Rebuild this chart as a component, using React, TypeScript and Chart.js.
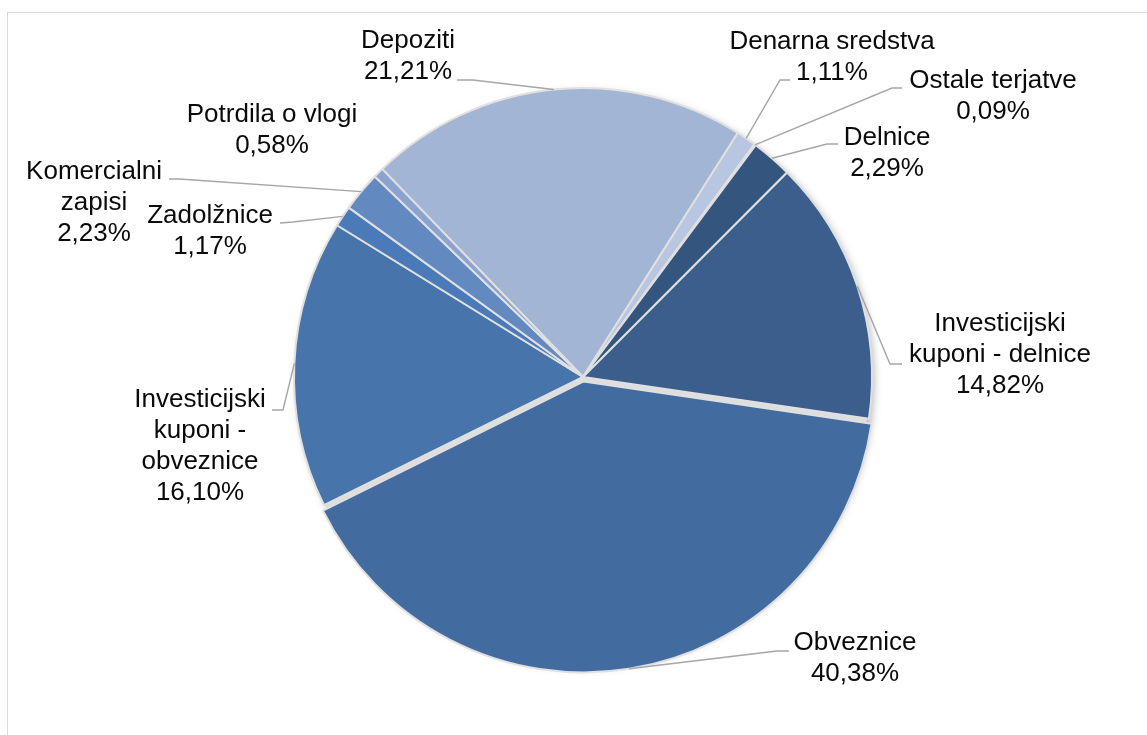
import React, { useEffect, useRef } from "react";
import { Chart, registerables } from "chart.js";

Chart.register(...registerables);

// ---- data ----
const categories = [
  "Depoziti",
  "Denarna sredstva",
  "Ostale terjatve",
  "Delnice",
  "Investicijski kuponi - delnice",
  "Obveznice",
  "Investicijski kuponi - obveznice",
  "Zadolžnice",
  "Komercialni zapisi",
  "Potrdila o vlogi",
];
const shares = [21.21, 1.11, 0.09, 2.29, 14.82, 40.38, 16.1, 1.17, 2.23, 0.58];
const labelLines = [
  ["Depoziti"],
  ["Denarna sredstva"],
  ["Ostale terjatve"],
  ["Delnice"],
  ["Investicijski", "kuponi - delnice"],
  ["Obveznice"],
  ["Investicijski", "kuponi -", "obveznice"],
  ["Zadolžnice"],
  ["Komercialni", "zapisi"],
  ["Potrdila o vlogi"],
];

// ---- styles ----
const sliceColors = [
  "#a3b5d5",
  "#b8c6e1",
  "#c9d3e8",
  "#33557e",
  "#3b5e8d",
  "#426ca0",
  "#4774ab",
  "#4a7ab7",
  "#6389c1",
  "#8aa4cf",
];
const sliceOffsets = [0, 0, 0, 0, 0, 18, 0, 0, 0, 0];

// label layout relative to the pie centre: first-line centre (tx, ty), leader elbow points
const labelLayout = [
  { tx: -175, ty: -336, pts: [[-126, -297], [-110, -297]] },
  { tx: 249, ty: -335, pts: [[207, -297], [197, -297]] },
  { tx: 410, ty: -296, pts: [[319, -289], [309, -289]] },
  { tx: 304, ty: -239, pts: [[255, -233], [244, -233]] },
  { tx: 417, ty: -53, pts: [[319, -13], [307, -13]] },
  { tx: 272, ty: 266, pts: [[206, 274], [194, 274]] },
  { tx: -383, ty: 23, pts: [[-311, 33], [-300, 33]] },
  { tx: -373, ty: -161, pts: [[-303, -154], [-290, -155]] },
  { tx: -489, ty: -205, pts: [[-414, -198], [-404, -198]] },
  { tx: -311, ty: -262, pts: null },
];

const W = 1147;
const H = 735;
const CX = 583;
const CY = 377;
const R = 289;
const LINE_H = 31;
const FONT = '26px "Liberation Sans", Arial, sans-serif';

const fmt = (v: number) => v.toFixed(2).replace(".", ",") + "%";

const pieDecor = {
  id: "pieDecor",
  beforeDatasetsDraw(chart: any) {
    const meta = chart.getDatasetMeta(0);
    const arc = meta.data[0];
    if (!arc) return;
    const { x, y, outerRadius } = arc.getProps(["x", "y", "outerRadius"], true);
    const ctx = chart.ctx;
    ctx.save();
    ctx.shadowColor = "rgba(0,0,0,0.35)";
    ctx.shadowBlur = 10;
    ctx.shadowOffsetX = 3;
    ctx.shadowOffsetY = 3;
    ctx.fillStyle = "#dedede";
    ctx.beginPath();
    ctx.arc(x, y, outerRadius - 2, 0, Math.PI * 2);
    ctx.fill();
    ctx.restore();
  },
  afterDatasetsDraw(chart: any) {
    const meta = chart.getDatasetMeta(0);
    const ctx = chart.ctx;
    ctx.save();
    ctx.font = FONT;
    ctx.textAlign = "center";
    ctx.textBaseline = "middle";
    meta.data.forEach((arc: any, i: number) => {
      const p = arc.getProps(["x", "y", "startAngle", "endAngle", "outerRadius", "circumference"], true);
      const mid = (p.startAngle + p.endAngle) / 2;
      const off = (sliceOffsets[i] || 0) / 4;
      const fix = 1 - Math.sin(Math.min(Math.PI, p.circumference || 0));
      const shift = off + off * fix;
      const ax = p.x + Math.cos(mid) * (p.outerRadius + shift);
      const ay = p.y + Math.sin(mid) * (p.outerRadius + shift);
      const lay = labelLayout[i];
      if (lay.pts) {
        ctx.strokeStyle = "#a6a6a6";
        ctx.lineWidth = 1.4;
        ctx.beginPath();
        ctx.moveTo(p.x + lay.pts[0][0], p.y + lay.pts[0][1]);
        for (let k = 1; k < lay.pts.length; k++) {
          ctx.lineTo(p.x + lay.pts[k][0], p.y + lay.pts[k][1]);
        }
        ctx.lineTo(ax, ay);
        ctx.stroke();
      }
      const lines = [...labelLines[i], fmt(shares[i])];
      ctx.fillStyle = "#0a0a0a";
      lines.forEach((t, k) => {
        ctx.fillText(t, p.x + lay.tx, p.y + lay.ty + k * LINE_H);
      });
    });
    ctx.restore();
  },
};

export default function App() {
  const ref = useRef<HTMLCanvasElement | null>(null);
  useEffect(() => {
    if (!ref.current) return;
    const spacing = 2 + Math.max(...sliceOffsets);
    const half = R + spacing / 2;
    const chart = new Chart(ref.current, {
      type: "pie",
      data: {
        labels: categories,
        datasets: [
          {
            data: shares,
            backgroundColor: sliceColors,
            borderColor: "#e0e0e0",
            borderWidth: 2,
            offset: sliceOffsets,
          },
        ],
      },
      options: {
        responsive: false,
        animation: false,
        rotation: -44,
        layout: {
          padding: {
            left: CX - half,
            right: W - (CX + half),
            top: CY - half,
            bottom: H - (CY + half),
          },
        },
        plugins: {
          legend: { display: false },
          tooltip: { enabled: false },
        },
      },
      plugins: [pieDecor],
    });
    return () => chart.destroy();
  }, []);

  return (
    <div
      style={{
        position: "fixed",
        left: 0,
        top: 0,
        width: W,
        height: H,
        overflow: "hidden",
        background: "#ffffff",
      }}
    >
      <div
        style={{
          position: "absolute",
          left: 7,
          top: 12,
          width: 2000,
          height: 2000,
          border: "1px solid #d9d9d9",
        }}
      />
      <canvas
        ref={ref}
        width={W}
        height={H}
        style={{ position: "absolute", left: 0, top: 0, width: W, height: H }}
      />
    </div>
  );
}
